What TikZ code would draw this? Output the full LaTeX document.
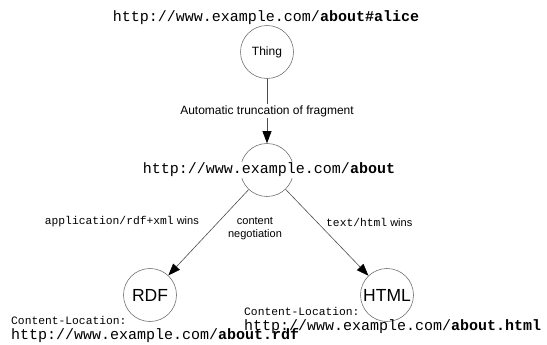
\documentclass[tikz,border=0pt]{standalone}
\usepackage{fontspec}
\setmainfont{Liberation Sans}
\setmonofont{Liberation Mono}
\usetikzlibrary{arrows.meta}

\tikzset{
  res/.style={circle, draw=black!55, line width=0.6pt, minimum size=53pt, inner sep=0pt,
    font=\fontsize{12}{14}\selectfont},
  big/.style={font=\fontsize{17.5}{20}\selectfont},
  arr/.style={draw=black!70, line width=0.6pt, -{Triangle[length=12pt,width=9pt,color=black]}},
  uri/.style={font=\fontsize{15}{17}\selectfont\ttfamily, inner sep=1pt},
  note/.style={font=\fontsize{11}{13}\selectfont, inner sep=1pt},
}
\newcommand{\hdr}[1]{{\fontsize{11.3}{13}\selectfont\ttfamily #1}}

\begin{document}
\begin{tikzpicture}[x=1pt,y=-1pt]
\useasboundingbox (0,0) rectangle (547,345);

% the resource and its fragment
\node (alice) at (266,18) [uri] {http://www.example.com/\textbf{about\#alice}};
\node (thing) at (267,52) [res] {Thing};

% the generic document
\node (about) at (267,170) [res] {};
\node (abouturi) at (269,170) [uri, fill=white] {http://www.example.com/\textbf{about}};

% the two representations
\node (rdf) at (150,295) [res, big] {RDF};
\node (html) at (387,295) [res, big] {HTML};

\draw [arr] (thing) -- (about) node (trunc) [midway, note, fill=white, font=\fontsize{12}{14}\selectfont] {Automatic truncation of fragment};
\draw [arr] (about) -- (rdf);
\draw [arr] (about) -- (html);

\node (rdfwins) at (200,222) [note, anchor=east] {\hdr{application/rdf+xml} wins};
\node (neg) at (255,229) [note, align=center] {content\\negotiation};
\node (htmlwins) at (325,222) [note, anchor=west] {\hdr{text/html} wins};

% Content-Location headers
\node (rdfloc) at (10,320) [note, anchor=west] {\hdr{Content-Location:}};
\node (rdfurl) at (10,336) [uri, anchor=west] {http://www.example.com/\textbf{about.rdf}};
\node (htmlloc) at (243,311) [note, anchor=west] {\hdr{Content-Location:}};
\node (htmlurl) at (243,327) [uri, anchor=west] {http://www.example.com/\textbf{about.html}};
\end{tikzpicture}
\end{document}
